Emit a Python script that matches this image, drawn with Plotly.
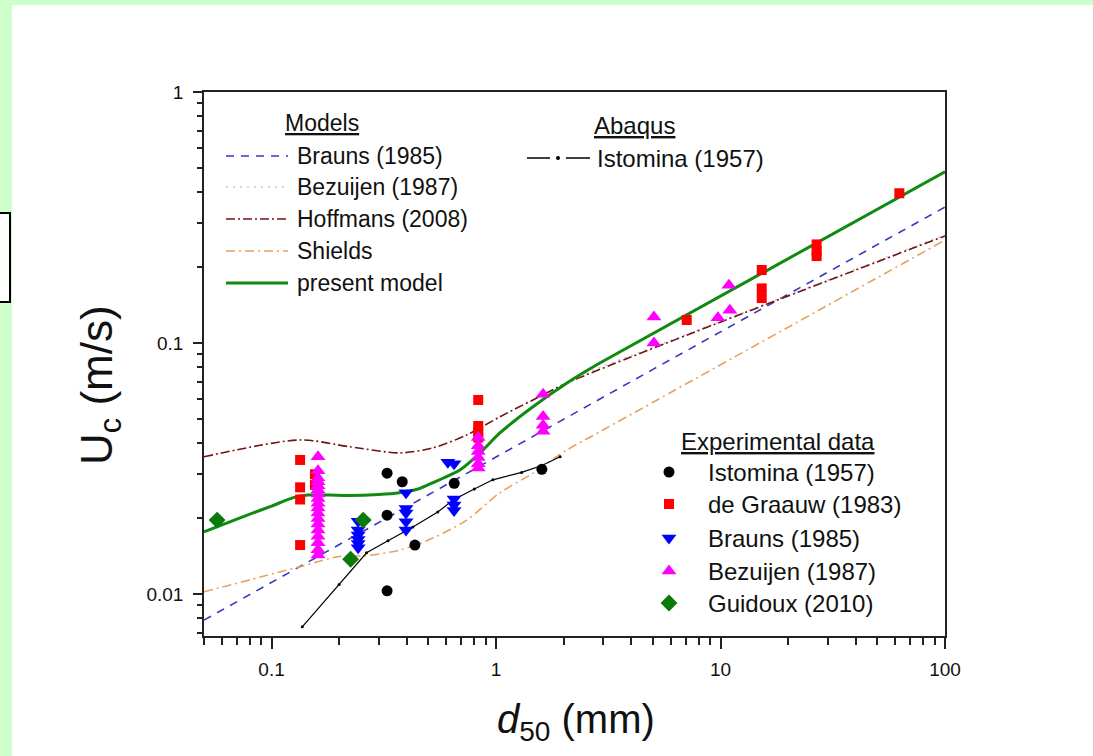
import plotly.graph_objects as go
import math

# ---------------- data ----------------
# Models (lines)
present_x = [0.05, 0.08, 0.1, 0.125, 0.145, 0.18, 0.22, 0.3, 0.37, 0.45, 0.52, 0.69, 0.85, 1.04, 1.46, 2.07, 2.9, 100]
present_y = [0.0177, 0.0208, 0.0224, 0.0242, 0.0248, 0.0248, 0.0247, 0.0249, 0.0253, 0.0262, 0.0277, 0.0312, 0.0365, 0.0438, 0.0557, 0.0693, 0.0832, 0.481]

hoffmans_x = [0.05, 0.134, 0.223, 0.373, 0.523, 0.74, 1.04, 1.46, 2.07, 100]
hoffmans_y = [0.0352, 0.0411, 0.0386, 0.0365, 0.0382, 0.043, 0.0508, 0.0593, 0.0693, 0.267]

brauns_model_x = [0.05, 0.5, 5, 100]
brauns_model_y = [0.00787, 0.0249, 0.0785, 0.348]

bezuijen_model_x = [2.5, 10, 100]
bezuijen_model_y = [0.076, 0.122, 0.27]

shields_x = [0.05, 0.134, 0.2, 0.26, 0.373, 0.523, 0.74, 1.04, 1.46, 2.07, 2.9, 100]
shields_y = [0.0102, 0.01285, 0.0141, 0.0142, 0.01496, 0.0167, 0.0197, 0.0253, 0.0303, 0.0375, 0.0443, 0.257]

# Abaqus
istomina_abaqus_x = [0.137, 0.2, 0.265, 0.33, 0.426, 0.55, 0.643, 0.8, 0.968, 1.3, 1.6, 1.93]
istomina_abaqus_y = [0.0074, 0.0109, 0.0146, 0.0163, 0.0185, 0.0212, 0.0237, 0.0262, 0.0285, 0.0305, 0.0325, 0.0352]

# Experimental data
istomina_x = [0.327, 0.382, 0.327, 0.435, 0.327, 0.651, 1.6]
istomina_y = [0.0303, 0.028, 0.0206, 0.01567, 0.0103, 0.0276, 0.0314]

graauw_x = [0.134, 0.134, 0.134, 0.134, 0.156, 0.156, 0.833, 0.833, 0.833, 0.833,
            7.07, 15.26, 15.26, 15.26, 26.8, 26.8, 26.8, 62.6]
graauw_y = [0.0342, 0.0266, 0.0238, 0.01567, 0.0272, 0.0300, 0.0593, 0.0467, 0.0445, 0.042,
            0.1235, 0.1954, 0.165, 0.151, 0.247, 0.232, 0.222, 0.395]

brauns_x = [0.243] * 6 + [0.397] * 5 + [0.61, 0.65] + [0.65] * 3
brauns_y = [0.0195, 0.018, 0.0172, 0.0165, 0.0159, 0.0153,
            0.0253, 0.0219, 0.021, 0.0194, 0.018,
            0.0335, 0.033, 0.0239, 0.0226, 0.0215]

bezuijen_x = [0.161] * 18 + [0.833] * 6 + [1.62] * 4 + [5.05, 5.05, 9.74, 11.0, 10.9]
bezuijen_y = [0.0352, 0.031, 0.029, 0.028, 0.027, 0.026, 0.025, 0.024, 0.023, 0.022,
              0.021, 0.020, 0.019, 0.018, 0.017, 0.016, 0.015, 0.0143,
              0.042, 0.039, 0.037, 0.035, 0.033, 0.0318,
              0.0625, 0.051, 0.047, 0.0445,
              0.127, 0.1, 0.126, 0.135, 0.17]

guidoux_x = [0.0572, 0.225, 0.256]
guidoux_y = [0.0197, 0.01375, 0.0197]

# ticks
x_tickvals = [0.1, 1, 10, 100]
x_ticktext = ["0.1", "1", "10", "100"]
x_minor = [0.05, 0.06, 0.07, 0.08, 0.09, 0.2, 0.3, 0.4, 0.5, 0.6, 0.7, 0.8, 0.9,
           2, 3, 4, 5, 6, 7, 8, 9, 20, 30, 40, 50, 60, 70, 80, 90]
y_tickvals = [0.01, 0.1, 1]
y_ticktext = ["0.01", "0.1", "1"]
y_minor = [0.007, 0.008, 0.009, 0.02, 0.03, 0.04, 0.05, 0.06, 0.07, 0.08, 0.09,
           0.2, 0.3, 0.4, 0.5, 0.6, 0.7, 0.8, 0.9]

# legend texts
models_title = "Models"
models_labels = ["Brauns (1985)", "Bezuijen (1987)", "Hoffmans (2008)", "Shields", "present model"]
abaqus_title = "Abaqus"
abaqus_labels = ["Istomina (1957)"]
exp_title = "Experimental data"
exp_labels = ["Istomina (1957)", "de Graauw (1983)", "Brauns (1985)", "Bezuijen (1987)", "Guidoux (2010)"]

# ---------------- styling ----------------
FONT = "Liberation Sans, Arial, sans-serif"
W, H = 1093, 756
L, R, T, B = 204, 945, 92, 636  # plot area in pixels

C_BRAUNS = "#3838c0"
C_BEZ = "#dcc0d0"
C_HOFF = "#6e1414"
C_SHIELDS = "#eaa060"
C_GREEN = "#108a10"

DASH_BRAUNS = "8px,7px"
DASH_BEZ = "2px,5px"
DASH_HOFF = "9px,3px,2px,3px"
DASH_SHIELDS = "9px,4px,2px,4px"

def px2paper_x(px):
    return (px - L) / (R - L)

def px2paper_y(py):
    return (B - py) / (B - T)

fig = go.Figure()

# model curves
fig.add_trace(go.Scatter(x=brauns_model_x, y=brauns_model_y, mode="lines",
                         line=dict(color=C_BRAUNS, width=1.6, dash=DASH_BRAUNS)))
fig.add_trace(go.Scatter(x=bezuijen_model_x, y=bezuijen_model_y, mode="lines",
                         line=dict(color=C_BEZ, width=1.6, dash=DASH_BEZ)))
fig.add_trace(go.Scatter(x=shields_x, y=shields_y, mode="lines", line_shape="spline",
                         line=dict(color=C_SHIELDS, width=1.6, dash=DASH_SHIELDS, smoothing=0.8)))
fig.add_trace(go.Scatter(x=hoffmans_x, y=hoffmans_y, mode="lines", line_shape="spline",
                         line=dict(color=C_HOFF, width=1.6, dash=DASH_HOFF, smoothing=0.8)))
fig.add_trace(go.Scatter(x=istomina_abaqus_x, y=istomina_abaqus_y, mode="lines+markers",
                         line=dict(color="black", width=1.2),
                         marker=dict(color="black", size=3)))
fig.add_trace(go.Scatter(x=present_x, y=present_y, mode="lines", line_shape="spline",
                         line=dict(color=C_GREEN, width=3, smoothing=0.6)))

# experimental data
fig.add_trace(go.Scatter(x=istomina_x, y=istomina_y, mode="markers",
                         marker=dict(symbol="circle", size=11, color="black")))
fig.add_trace(go.Scatter(x=graauw_x, y=graauw_y, mode="markers",
                         marker=dict(symbol="square", size=10, color="#ff0000")))
fig.add_trace(go.Scatter(x=brauns_x, y=brauns_y, mode="markers",
                         marker=dict(symbol="triangle-down", size=13, color="#0000ff")))
fig.add_trace(go.Scatter(x=bezuijen_x, y=bezuijen_y, mode="markers",
                         marker=dict(symbol="triangle-up", size=13, color="#ff00ff")))
fig.add_trace(go.Scatter(x=guidoux_x, y=guidoux_y, mode="markers",
                         marker=dict(symbol="diamond", size=13, color="#0a7a0a")))

# ---------------- legends (drawn on a pixel-coordinate overlay axis) ----------------
MFS = 23
EFS = 24
ann = []
shapes = []

# Models
m_rows = [156, 187, 219, 251, 283]
m_styles = [(C_BRAUNS, DASH_BRAUNS, 1.6), (C_BEZ, DASH_BEZ, 1.6), (C_HOFF, DASH_HOFF, 1.6),
            (C_SHIELDS, DASH_SHIELDS, 1.6), (C_GREEN, "solid", 3)]
for yy, (c, d, w), lab in zip(m_rows, m_styles, models_labels):
    fig.add_trace(go.Scatter(x=[226, 288], y=[yy, yy], xaxis="x2", yaxis="y2", mode="lines",
                             line=dict(color=c, dash=d, width=w)))
    ann.append(dict(x=295, y=yy, xref="x2", yref="y2", text=lab, showarrow=False,
                    xanchor="left", yanchor="middle", font=dict(size=MFS, family=FONT, color="#111")))
ann.append(dict(x=322, y=123, xref="x2", yref="y2",
                text="<span style='text-decoration:underline'>" + models_title + "</span>",
                showarrow=False, xanchor="center", yanchor="middle",
                font=dict(size=MFS, family=FONT, color="#111")))

# Abaqus
fig.add_trace(go.Scatter(x=[527, 550, None, 566, 590], y=[158, 158, None, 158, 158],
                         xaxis="x2", yaxis="y2", mode="lines", line=dict(color="black", width=1.5)))
fig.add_trace(go.Scatter(x=[558], y=[158], xaxis="x2", yaxis="y2", mode="markers",
                         marker=dict(color="black", size=4)))
ann.append(dict(x=595, y=158, xref="x2", yref="y2", text=abaqus_labels[0], showarrow=False,
                xanchor="left", yanchor="middle", font=dict(size=EFS, family=FONT, color="#111")))
ann.append(dict(x=634, y=125, xref="x2", yref="y2",
                text="<span style='text-decoration:underline'>" + abaqus_title + "</span>",
                showarrow=False, xanchor="center", yanchor="middle",
                font=dict(size=EFS, family=FONT, color="#111")))

# Experimental data
e_rows = [472, 504, 538, 571, 603]
e_markers = [("circle", 11, "black"), ("square", 10, "#ff0000"), ("triangle-down", 13, "#0000ff"),
             ("triangle-up", 13, "#ff00ff"), ("diamond", 13, "#0a7a0a")]
for yy, (s, sz, c), lab in zip(e_rows, e_markers, exp_labels):
    fig.add_trace(go.Scatter(x=[669], y=[yy], xaxis="x2", yaxis="y2", mode="markers",
                             marker=dict(symbol=s, size=sz, color=c)))
    ann.append(dict(x=706, y=yy, xref="x2", yref="y2", text=lab, showarrow=False,
                    xanchor="left", yanchor="middle", font=dict(size=EFS, family=FONT, color="#111")))
ann.append(dict(x=778, y=441, xref="x2", yref="y2",
                text="<span style='text-decoration:underline'>" + exp_title + "</span>",
                showarrow=False, xanchor="center", yanchor="middle",
                font=dict(size=EFS, family=FONT, color="#111")))

# axis titles
ann.append(dict(x=px2paper_x(576), y=px2paper_y(722), xref="paper", yref="paper",
                text="<i>d</i><sub>50</sub> (mm)", showarrow=False, xanchor="center", yanchor="middle",
                font=dict(size=40, family=FONT, color="#111")))
ann.append(dict(x=px2paper_x(100), y=px2paper_y(385), xref="paper", yref="paper",
                text="U<sub>c</sub> (m/s)", showarrow=False, textangle=-90,
                xanchor="center", yanchor="middle",
                font=dict(size=44, family=FONT, color="#111")))

# page decorations: white panel on green background and small box at left
shapes.append(dict(type="rect", xref="paper", yref="paper", layer="below",
                   x0=px2paper_x(12), x1=px2paper_x(W + 20), y0=px2paper_y(H + 20), y1=px2paper_y(5),
                   fillcolor="white", line=dict(width=0)))
shapes.append(dict(type="rect", xref="paper", yref="paper", layer="below",
                   x0=px2paper_x(-6), x1=px2paper_x(10), y0=px2paper_y(302), y1=px2paper_y(213),
                   fillcolor="white", line=dict(width=2, color="black")))

axis_common = dict(type="log", showgrid=False, zeroline=False, showline=True, linecolor="#222",
                   linewidth=1.5, mirror=True, ticks="outside", tickcolor="#222", tickwidth=1.5,
                   tickfont=dict(size=19, family=FONT, color="#111"))

fig.update_layout(
    width=W, height=H,
    margin=dict(l=L, r=W - R, t=T, b=H - B),
    paper_bgcolor="#ccffcc", plot_bgcolor="white",
    showlegend=False,
    xaxis=dict(axis_common, range=[math.log10(0.05), 2], tickmode="array",
               tickvals=x_tickvals, ticktext=x_ticktext, ticklen=11, ticklabelstandoff=4,
               minor=dict(tickmode="array", tickvals=x_minor, ticks="outside", ticklen=7,
                          tickcolor="#222", tickwidth=1.5, showgrid=False)),
    yaxis=dict(axis_common, range=[-(B - T) / 251, 0], tickmode="array",
               tickvals=y_tickvals, ticktext=y_ticktext, ticklen=9, ticklabelstandoff=6,
               minor=dict(tickmode="array", tickvals=y_minor, ticks="outside", ticklen=5,
                          tickcolor="#222", tickwidth=1.5, showgrid=False)),
    xaxis2=dict(overlaying="x", anchor="y2", range=[L, R], visible=False),
    yaxis2=dict(overlaying="y", anchor="x2", range=[B, T], visible=False),
    annotations=ann,
    shapes=shapes,
    font=dict(family=FONT),
)

fig.write_html("out.html",
               config={"displayModeBar": False},
               post_script="document.body.style.margin='0px';document.body.style.overflow='hidden';")
